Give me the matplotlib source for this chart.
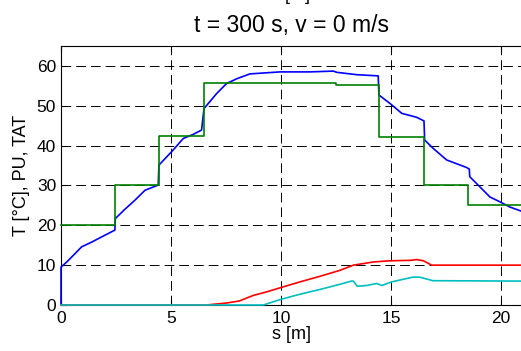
import matplotlib
matplotlib.use("Agg")
import matplotlib.pyplot as plt

plt.rcParams['font.family'] = ['Liberation Sans', 'DejaVu Sans']
plt.rcParams['lines.scale_dashes'] = False

# Data
blue_s = [0, 0, 0.3, 0.94, 1.4, 1.85, 2.45, 2.47, 2.9, 3.36, 3.82, 4.42, 4.45, 5.1, 5.56, 6.0, 6.39,
          6.5, 7.08, 7.53, 8.0, 8.59, 9.95, 11.3, 12.38, 12.53, 13.44, 14.42, 14.45, 14.95, 15.49,
          16.17, 16.5, 16.53, 16.92, 17.53, 18.44, 18.56, 18.58, 19.05, 19.5, 19.95, 20.4, 20.9]
blue_T = [0, 9.5, 11.0, 14.6, 15.8, 17.1, 18.8, 21.7, 24.0, 26.3, 28.8, 30.1, 35.1, 38.9, 41.8, 42.8, 43.9,
          49.3, 53.1, 55.6, 56.8, 58.0, 58.5, 58.5, 58.7, 58.4, 57.8, 57.5, 52.7, 50.6, 48.1,
          47.1, 46.2, 41.4, 39.3, 36.4, 34.5, 34.1, 32.2, 29.6, 27.1, 25.9, 24.6, 23.6]

green_s = [0, 2.47, 4.47, 6.5, 12.49, 14.47, 16.5, 18.51, 20.9]
green_T = [20, 30, 42.5, 55.6, 55.3, 42.1, 30, 25, 25]

red_s = [0, 6.6, 7.53, 8.1, 8.74, 9.35, 9.95, 10.86, 11.77, 12.68, 13.29, 14.2, 14.95, 15.86,
         16.17, 16.47, 16.85, 20.9]
red_v = [0, 0, 0.5, 1.0, 2.4, 3.3, 4.3, 5.8, 7.2, 8.7, 10.0, 10.8, 11.1, 11.2, 11.4, 11.1, 10.0, 10.0]

cyan_s = [0, 9.2, 9.95, 10.86, 11.77, 12.68, 13.2, 13.29, 13.47, 13.9, 14.35, 14.58, 15.03,
          16.0, 16.3, 16.9, 20.9]
cyan_v = [0, 0, 1.35, 2.7, 3.9, 5.2, 6.0, 6.0, 4.7, 4.9, 5.4, 4.9, 5.8, 7.0, 7.0, 6.1, 6.0]

xticks = [0, 5, 10, 15, 20]
yticks = [0, 10, 20, 30, 40, 50, 60]

fig = plt.figure(figsize=(5.21, 3.51), dpi=100)
ax = fig.add_axes([61/521, 46/351, 460/521, 259/351])

lw = 1.2
ax.plot(blue_s, blue_T, color='#0000ff', lw=lw, zorder=3, clip_on=False)
ax.step(green_s, green_T, where='post', color='#008000', lw=lw, zorder=3, clip_on=False)
ax.plot(red_s, red_v, color='#ff0000', lw=lw, zorder=3, clip_on=False)
ax.plot(cyan_s, cyan_v, color='#00bfbf', lw=lw, zorder=3, clip_on=False)

ax.set_xlim(0, 20.91)
ax.set_ylim(0, 65)
ax.set_xticks(xticks)
ax.set_yticks(yticks)
ax.tick_params(direction='in', top=True, right=False, length=4, labelsize=12.5)
ax.tick_params(axis='y', pad=3.5)
ax.tick_params(axis='x', pad=4.5)
ax.spines['right'].set_visible(False)
ax.grid(True, color='black', linestyle=(0, (7, 3.6)), linewidth=0.7)

ax.set_xlabel('s [m]', fontsize=13, labelpad=0)
ax.set_ylabel('T [°C], PU, TAT', fontsize=13, labelpad=5)
ax.set_title('t = 300 s, v = 0 m/s', fontsize=16.5, pad=10)

fig.text(0.558, 1 - 4/351, 's [m]', fontsize=13, ha='center', va='bottom')

fig.savefig('out.png', dpi=100)
